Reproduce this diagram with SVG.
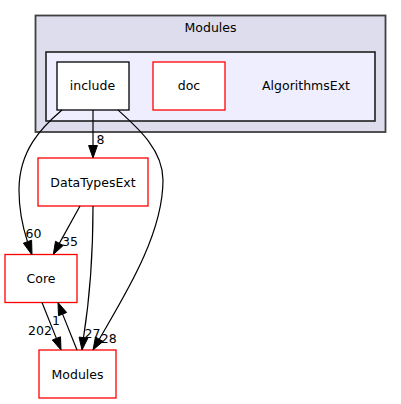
<svg xmlns="http://www.w3.org/2000/svg" width="401" height="404" viewBox="0 0 401 404">
<style>
text{font-family:"DejaVu Sans","Liberation Sans",sans-serif;font-size:12.5px;fill:#000}
.n{text-anchor:middle}
.box{fill:#fff;stroke-width:1.3}
.red{stroke:#ff0000}
.blk{stroke:#000}
.e{fill:none;stroke:#000;stroke-width:1.2}
.ah{fill:#000;stroke:#000;stroke-width:1}
</style>
<rect width="401" height="404" fill="#fff"/>
<g id="cluster_Modules">
<rect x="35.5" y="15.5" width="350" height="116.5" fill="#ddddee" stroke="#404040" stroke-width="1.8"/>
<text class="n" x="210.5" y="31.5">Modules</text>
</g>
<g id="cluster_AlgorithmsExt">
<rect x="46" y="52" width="329" height="69" fill="#eeeeff" stroke="#202020" stroke-width="1.6"/>
<text class="n" x="306" y="90">AlgorithmsExt</text>
</g>
<g id="node_include">
<rect class="box blk" x="57" y="62" width="72" height="48"/>
<text class="n" x="92.5" y="90">include</text>
</g>
<g id="node_doc">
<rect class="box red" x="153" y="62" width="72" height="48"/>
<text class="n" x="189" y="90">doc</text>
</g>
<g id="node_DataTypesExt">
<rect class="box red" x="38" y="158" width="110" height="48"/>
<text class="n" x="93" y="186.5">DataTypesExt</text>
</g>
<g id="node_Core">
<rect class="box red" x="5" y="254.5" width="72" height="48"/>
<text class="n" x="41" y="282.5">Core</text>
</g>
<g id="node_Modules">
<rect class="box red" x="39" y="350" width="77" height="48"/>
<text class="n" x="77.5" y="379">Modules</text>
</g>
<g id="connectors">
<path class="e" d="M93,110 L93,145.5"/>
<polygon class="ah" points="88.6,145.5 93,158 97.4,145.5"/>
<text class="n" x="100.5" y="144">8</text>

<path class="e" d="M62,110 C42,127 19,150 19,190 C19,212 23,228 27.5,241.7"/>
<polygon class="ah" points="23.4,243.2 32,255 31.6,240.2"/>
<text class="n" x="33.5" y="237.5">60</text>

<path class="e" d="M118,110 C138,128 163,150 163,180 C163,235 124.25,295.9 99.25,339.2"/>
<polygon class="ah" points="103.06,341.4 93,350 95.44,337"/>
<text class="n" x="108.7" y="343">28</text>

<path class="e" d="M80,206 L59.35,243.4"/>
<polygon class="ah" points="63.2,245.5 53.3,254.5 55.5,241.3"/>
<text class="n" x="70" y="246">35</text>

<path class="e" d="M93,206 C93,250 91,290 83.5,337.6"/>
<polygon class="ah" points="87.9,338.1 82,350 79.1,337.1"/>
<text class="n" x="92.5" y="338">27</text>

<path class="e" d="M42,302.5 L56.4,338.4"/>
<polygon class="ah" points="60.5,336.8 61,350 52.3,340"/>
<text class="n" x="40" y="335">202</text>

<path class="e" d="M77,350 L62.6,314.1"/>
<polygon class="ah" points="66.7,312.5 58,302.5 58.5,315.7"/>
<text class="n" x="56" y="325">1</text>
</g>
</svg>
